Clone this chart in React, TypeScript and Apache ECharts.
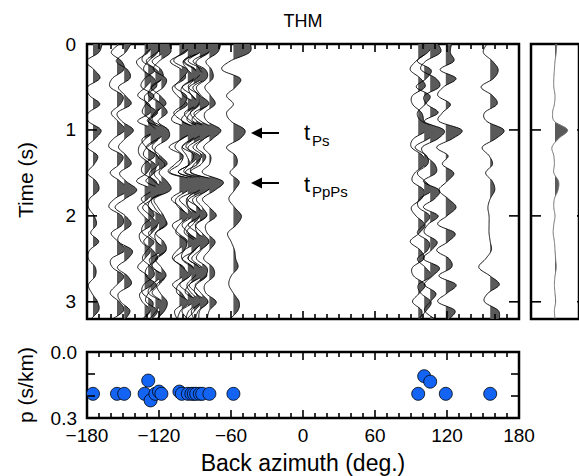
import React, { useEffect, useRef } from 'react';
import * as echarts from 'echarts';

// ---- data ----
const TIMES = [0, 0.1, 0.2, 0.3, 0.4, 0.5, 0.6, 0.7, 0.8, 0.9, 1.0, 1.1, 1.2, 1.3, 1.4, 1.5, 1.6, 1.7, 1.8, 1.9, 2.0, 2.1, 2.2, 2.3, 2.4, 2.5, 2.6, 2.7, 2.8, 2.9, 3.0, 3.1, 3.2];

const BACK_AZIMUTH = [-175, -155, -149, -132, -129, -127, -123, -120, -118, -103, -101, -96, -93, -91, -89, -86, -84, -78, -58, 96, 101, 106, 119, 156];
const SLOWNESS = [0.19, 0.19, 0.19, 0.19, 0.13, 0.22, 0.19, 0.18, 0.19, 0.18, 0.19, 0.19, 0.19, 0.19, 0.19, 0.19, 0.19, 0.19, 0.19, 0.19, 0.11, 0.135, 0.19, 0.19];

const RF_01 = [0.8, 0.5, -0.6, 0.1, 0.6, -0.5, -0.3, 0.6, -0.4, -0.4, 0.7, 0.2, -0.5, 0.4, 0.1, -0.5, 0.3, 0.5, -0.3, -0.4, 0.1, 0.3, -0.2, 0.5, -0.3, -0.4, 0.2, 0.2, -0.4, -0.1, 0.4, 0.5, -0.2];
const RF_02 = [0.2, -0.5, 0.4, 0.6, -0.4, -0.6, 0.5, 0.3, -0.5, 0.1, 0.7, -0.3, -0.7, 0.5, 0.2, -0.6, 0.3, 1.0, -0.2, -0.7, 0.4, 0.5, -0.5, 0.1, 0.7, -0.5, -0.4, 0.6, 0.0, -0.6, 0.2, 0.6, -0.4];
const RF_03 = [0.6, 0.1, -0.7, 0.3, 0.5, -0.5, 0.1, 0.6, -0.6, -0.2, 0.8, 0.1, -0.5, 0.2, 0.6, -0.4, 0.2, 1.1, 0.1, -0.8, 0.1, 0.6, -0.3, -0.5, 0.7, 0.3, -0.6, 0.3, 0.6, -0.5, -0.3, 0.5, 0.1];
const RF_04 = [0.8, 0.3, -0.7, -0.2, 0.6, 0.1, -0.6, 0.4, 0.5, -0.6, 0.9, 0.1, -0.5, -0.4, 0.5, 0.2, -0.7, 0.8, 0.3, -0.6, -0.1, 0.6, -0.4, -0.3, 0.5, 0.0, -0.6, 0.3, 0.6, -0.4, -0.2, 0.5, -0.1];
const RF_05 = [1.0, -0.2, -0.5, 0.6, -0.3, -0.6, 0.5, -0.2, -0.5, 0.4, 0.8, -0.5, -0.2, 0.6, -0.4, -0.5, 0.7, 0.4, -0.6, 0.1, 0.5, -0.4, -0.5, 0.5, -0.1, -0.5, 0.3, 0.5, -0.4, -0.5, 0.4, 0.2, -0.5];
const RF_06 = [0.5, 0.6, -0.2, -0.6, 0.3, 0.5, -0.5, -0.3, 0.6, -0.2, 0.5, 0.7, -0.3, -0.6, 0.4, 0.3, -0.4, 1.0, 0.2, -0.7, 0.0, 0.6, 0.1, -0.6, 0.2, 0.6, -0.3, -0.4, 0.5, -0.2, -0.4, 0.6, 0.1];
const RF_07 = [0.9, 0.1, -0.8, 0.1, 0.6, -0.3, -0.6, 0.5, 0.1, -0.7, 1.0, 0.2, -0.8, 0.2, 0.3, -0.5, -0.1, 0.9, -0.3, -0.6, 0.4, 0.2, -0.6, 0.1, 0.6, -0.5, -0.2, 0.5, -0.3, -0.6, 0.5, 0.1, -0.5];
const RF_08 = [1.1, 0.4, -0.6, 0.2, 0.3, -0.7, 0.1, 0.6, -0.4, -0.5, 0.8, 0.0, -0.6, 0.1, 0.7, -0.4, 0.1, 0.9, -0.6, -0.4, 0.2, 0.7, -0.3, -0.2, 0.6, -0.2, -0.6, 0.5, 0.0, -0.6, 0.3, 0.4, -0.2];
const RF_09 = [0.7, 0.8, -0.2, -0.7, 0.4, 0.2, -0.7, 0.0, 0.5, -0.3, 0.6, 0.6, -0.5, -0.4, 0.3, -0.2, 0.5, 0.8, -0.6, -0.3, 0.2, 0.4, -0.5, 0.2, 0.4, -0.5, 0.0, 0.4, -0.4, -0.1, 0.5, 0.3, -0.4];
const RF_10 = [1.2, 0.5, -0.8, 0.2, 0.5, -0.6, -0.2, 0.7, -0.3, -0.6, 1.2, 0.3, -0.9, 0.3, -0.4, -0.9, 1.5, 0.4, -0.7, 0.1, 0.5, -0.6, -0.1, 0.7, -0.2, -0.6, 0.4, 0.3, -0.6, 0.2, 0.5, -0.4, -0.2];
const RF_11 = [1.3, 0.1, -0.7, 0.5, 0.0, -0.6, 0.4, 0.2, -0.7, 0.1, 1.3, 0.0, -0.6, 0.1, -0.2, -1.0, 1.6, 0.6, -0.5, -0.3, 0.6, -0.2, -0.5, 0.4, 0.2, -0.7, 0.1, 0.6, -0.3, -0.4, 0.6, -0.1, -0.4];
const RF_12 = [1.4, 0.6, -0.4, 0.0, 0.6, -0.5, -0.4, 0.8, -0.1, -0.5, 1.1, 0.5, -0.5, -0.1, 0.1, -0.8, 1.4, 0.8, -0.7, -0.1, 0.4, -0.5, 0.1, 0.8, -0.3, -0.5, 0.5, 0.2, -0.7, 0.1, 0.5, -0.5, 0.0];
const RF_13 = [1.3, 0.7, -0.6, 0.4, 0.2, -0.8, 0.1, 0.5, -0.6, 0.0, 1.4, 0.1, -0.8, 0.5, -0.1, -1.1, 1.5, 0.5, -0.4, -0.2, 0.7, -0.3, -0.6, 0.4, 0.3, -0.8, 0.1, 0.7, -0.2, -0.5, 0.7, -0.2, -0.5];
const RF_14 = [1.1, 0.4, -0.9, 0.1, 0.7, -0.4, -0.2, 0.5, -0.3, -0.5, 1.2, 0.6, -0.5, 0.0, -0.4, -0.8, 1.3, 0.9, -0.4, -0.5, 0.5, -0.1, -0.6, 0.6, 0.1, -0.5, 0.5, 0.1, -0.6, -0.2, 0.6, 0.1, -0.6];
const RF_15 = [1.5, 0.3, -0.7, 0.6, 0.0, -0.7, 0.3, 0.2, -0.5, 0.1, 1.3, -0.1, -0.9, 0.3, 0.1, -0.9, 1.7, 0.3, -0.8, 0.2, 0.3, -0.7, 0.1, 0.6, -0.2, -0.7, 0.3, 0.5, -0.6, 0.0, 0.4, -0.4, -0.2];
const RF_16 = [1.2, 0.8, -0.3, 0.0, 0.5, -0.6, 0.0, 0.7, -0.2, -0.6, 1.4, 0.4, -0.6, 0.2, -0.5, -0.7, 1.4, 0.7, -0.6, -0.2, 0.6, -0.3, -0.2, 0.8, 0.0, -0.7, 0.2, 0.6, -0.3, -0.4, 0.7, -0.1, -0.4];
const RF_17 = [1.4, 0.5, -0.8, 0.3, 0.4, -0.5, -0.1, 0.6, -0.7, -0.1, 1.2, 0.2, -0.5, 0.3, -0.1, -1.0, 1.5, 0.5, -0.5, 0.0, 0.4, -0.6, 0.0, 0.6, -0.1, -0.5, 0.4, 0.3, -0.6, -0.1, 0.5, -0.2, -0.3];
const RF_18 = [1.0, 0.7, -0.3, 0.2, 0.3, -0.4, 0.1, 0.5, -0.4, -0.2, 1.0, 0.3, -0.5, 0.1, 0.0, -0.6, 1.2, 0.5, -0.6, 0.0, 0.6, -0.3, -0.2, 0.5, 0.0, -0.5, 0.3, 0.4, -0.4, -0.3, 0.6, 0.0, -0.2];
const RF_19 = [1.5, 1.4, -0.3, -1.0, 0.6, 0.2, -0.6, 0.0, -0.6, -0.2, 1.0, 0.6, -0.6, 0.2, 0.3, -0.3, 0.5, 0.1, -0.4, 0.1, 0.7, 0.3, -0.5, -0.2, 0.1, 0.2, 0.4, -0.2, -0.4, 0.0, 0.5, 0.4, -0.3];
const RF_20 = [0.5, 0.7, -0.2, -0.7, 0.2, 0.6, -0.5, -0.5, 0.3, 0.5, 0.8, -0.4, -0.6, 0.4, 0.6, -0.3, -0.5, 0.5, 0.3, -0.6, -0.2, 0.6, 0.1, -0.7, 0.2, 0.5, -0.5, -0.4, 0.6, 0.1, -0.5, 0.3, 0.2];
const RF_21 = [0.9, 0.3, -0.6, 0.6, 0.2, -0.7, 0.5, 0.1, -0.6, -0.2, 1.4, 0.4, -0.8, 0.2, 0.3, -0.6, 0.1, 0.7, -0.4, -0.5, 0.5, 0.0, -0.6, 0.4, 0.3, -0.6, 0.1, 0.6, -0.5, -0.3, 0.6, 0.2, -0.5];
const RF_22 = [0.7, 0.9, -0.4, -0.8, 0.5, 0.8, -0.5, -0.3, 0.7, -0.5, 1.2, 0.7, -0.7, -0.4, 0.4, 0.5, -0.6, 0.8, 0.4, -0.6, 0.7, -0.2, -0.5, 0.6, 0.1, -0.6, 0.8, 0.2, -0.5, 0.5, 0.0, -0.5, 0.4];
const RF_23 = [0.5, 0.4, 0.7, -0.5, 0.9, -0.2, -0.7, 0.4, -0.3, -0.6, 1.4, 0.6, -0.8, 0.2, -0.3, 0.7, 0.1, -0.6, 0.2, 0.9, 0.1, -0.7, 0.8, 0.2, -0.8, 0.3, 0.5, -0.6, 0.9, 0.1, -0.7, 0.8, 0.3];
const RF_24 = [-0.3, -0.6, 0.2, 0.7, 0.3, -0.8, 0.2, 0.6, -0.5, -0.3, 1.2, 0.5, -0.7, -0.1, 0.2, -0.4, 0.2, 0.4, 0.0, -0.2, -0.1, -0.1, -0.1, 0.0, 0.1, -0.4, -1.0, 0.0, 0.8, -0.2, -0.5, 0.7, 0.8];

const TRACES = [RF_01, RF_02, RF_03, RF_04, RF_05, RF_06, RF_07, RF_08, RF_09, RF_10, RF_11, RF_12, RF_13, RF_14, RF_15, RF_16, RF_17, RF_18, RF_19, RF_20, RF_21, RF_22, RF_23, RF_24];

const STACK = [0.15, 0.1, 0.0, -0.05, -0.1, -0.1, 0.0, -0.05, -0.2, -0.05, 1.05, 0.3, -0.25, -0.1, -0.05, -0.1, 0.3, 0.25, -0.05, -0.1, 0.0, -0.1, -0.15, -0.05, 0.0, 0.05, 0.1, 0.0, -0.05, 0.0, 0.05, -0.05, 0.0];

// tick positions
const BAZ_MAJOR_TICKS = [-180, -120, -60, 0, 60, 120, 180];
const BAZ_MINOR_TICKS = [-170, -160, -150, -140, -130, -110, -100, -90, -80, -70, -50, -40, -30, -20, -10, 10, 20, 30, 40, 50, 70, 80, 90, 100, 110, 130, 140, 150, 160, 170];
const TIME_TICKS = [1, 2, 3];
const P_TICKS = [0.1, 0.2];

const AMP_DEG = 9.5; // degrees of back azimuth per unit amplitude
const FONT = 'Liberation Sans, Arial, Helvetica, sans-serif';
const FILL = '#5a5a5a';

const GRIDS = [
  { left: 87, top: 44, width: 432, height: 275 },
  { left: 87, top: 352, width: 432, height: 66 },
  { left: 531, top: 44, width: 56, height: 275 },
];

function catmull(pts: number[][], n: number) {
  const out: number[][] = [];
  const L = pts.length;
  for (let i = 0; i < L - 1; i++) {
    const p0 = pts[Math.max(i - 1, 0)], p1 = pts[i], p2 = pts[i + 1], p3 = pts[Math.min(i + 2, L - 1)];
    for (let k = 0; k < n; k++) {
      const s = k / n, s2 = s * s, s3 = s2 * s;
      const f = (a: number, b: number, c: number, d: number) =>
        0.5 * (2 * b + (-a + c) * s + (2 * a - 5 * b + 4 * c - d) * s2 + (-a + 3 * b - 3 * c + d) * s3);
      out.push([f(p0[0], p1[0], p2[0], p3[0]), f(p0[1], p1[1], p2[1], p3[1])]);
    }
  }
  out.push(pts[L - 1]);
  return out;
}

function positiveFills(curve: number[][], base: number) {
  const polys: number[][][] = [];
  let cur: number[][] | null = null;
  for (let i = 0; i < curve.length; i++) {
    const [x, y] = curve[i];
    if (x > base) {
      if (!cur) {
        if (i > 0) {
          const [px, py] = curve[i - 1];
          const f = (base - px) / (x - px);
          cur = [[base, py + f * (y - py)]];
        } else cur = [[base, y]];
      }
      cur.push([x, y]);
    } else if (cur) {
      const [px, py] = curve[i - 1];
      const f = (base - px) / (x - px);
      cur.push([base, py + f * (y - py)]);
      polys.push(cur);
      cur = null;
    }
  }
  if (cur) {
    cur.push([base, cur[cur.length - 1][1]]);
    polys.push(cur);
  }
  return polys;
}

function makeRenderer(bases: number[], traces: number[][], scale: number, stroke: string, lw: number) {
  return (params: any, api: any) => {
    const i = params.dataIndex;
    const b = bases[i];
    const amp = traces[i];
    const cs = params.coordSys;
    const raw = TIMES.map((t, k) => api.coord([b + amp[k] * scale, t]));
    const base = api.coord([b, 0])[0];
    const curve = catmull(raw, 10).map(([x, y]) => [Math.min(Math.max(x, cs.x), cs.x + cs.width), y]);
    const children: any[] = positiveFills(curve, base).map((p) => ({
      type: 'polygon',
      shape: { points: p },
      style: { fill: FILL, stroke: 'none' },
    }));
    children.push({
      type: 'polyline',
      shape: { points: curve },
      style: { stroke, fill: 'none', lineWidth: lw },
    });
    return { type: 'group', children };
  };
}

const minus = (v: number) => (v < 0 ? '\u2212' + Math.abs(v) : String(v));

export default function App() {
  const ref = useRef<HTMLDivElement>(null);
  useEffect(() => {
    if (!ref.current) return;
    const chart = echarts.init(ref.current, undefined, { renderer: 'svg' });
    const noLine = { show: false, onZero: false };
    const bazAxis = (gridIndex: number, labels: boolean) => ({
      type: 'value', gridIndex, position: 'bottom', min: -180, max: 180, interval: 60,
      axisLine: noLine, axisTick: { show: false },
      splitLine: { show: false },
      axisLabel: { show: labels, formatter: minus, fontSize: 19, color: '#000', fontFamily: FONT, margin: 8 },
    });
    const timeAxis = (gridIndex: number, labels: boolean) => ({
      type: 'value', gridIndex, position: 'left', min: 0, max: 3.2, interval: 1, inverse: true,
      axisLine: noLine, axisTick: { show: false },
      splitLine: { show: false },
      axisLabel: {
        show: labels, fontSize: 19, color: '#000', fontFamily: FONT, margin: 11,
        formatter: (v: number) => (Math.abs(v - Math.round(v)) < 1e-6 ? String(Math.round(v)) : ''),
      },
    });
    const gridStyle = { show: true, borderColor: '#000', borderWidth: 2.5, backgroundColor: 'transparent' };
    const textStyle = (text: string, size: number, align = 'center') => ({
      text, fontSize: size, fontFamily: FONT, fill: '#000',
      align, textAlign: align, verticalAlign: 'middle', textVerticalAlign: 'middle',
    });
    const arrow = (y: number) => [
      { type: 'line', shape: { x1: 279, y1: y, x2: 258, y2: y }, style: { stroke: '#000', lineWidth: 2 } },
      { type: 'polygon', shape: { points: [[251, y], [262, y - 5.5], [262, y + 5.5]] }, style: { fill: '#000' } },
    ];
    chart.setOption({
      animation: false,
      textStyle: { fontFamily: FONT },
      grid: GRIDS.map((g) => ({ ...g, ...gridStyle })),
      xAxis: [
        bazAxis(0, false),
        bazAxis(1, true),
        { type: 'value', gridIndex: 2, min: -2, max: 2, axisLine: noLine, axisTick: { show: false }, axisLabel: { show: false }, splitLine: { show: false } },
      ],
      yAxis: [
        timeAxis(0, true),
        {
          type: 'value', gridIndex: 1, position: 'left', min: 0, max: 0.3, interval: 0.1, inverse: true,
          axisLine: noLine, axisTick: { show: false }, splitLine: { show: false },
          axisLabel: {
            fontSize: 19, color: '#000', fontFamily: FONT, margin: 10,
            formatter: (v: number) => (Math.abs(v) < 1e-6 ? '0.0' : Math.abs(v - 0.3) < 1e-6 ? '0.3' : ''),
          },
        },
        timeAxis(2, false),
      ],
      series: [
        {
          type: 'custom', xAxisIndex: 0, yAxisIndex: 0,
          data: BACK_AZIMUTH.map((b) => [b, 0]),
          renderItem: makeRenderer(BACK_AZIMUTH, TRACES, AMP_DEG, '#000', 0.9),
          silent: true,
        },
        {
          type: 'scatter', xAxisIndex: 1, yAxisIndex: 1,
          data: BACK_AZIMUTH.map((b, i) => [b, SLOWNESS[i]]),
          symbol: 'circle', symbolSize: 13, z: 6,
          itemStyle: { color: '#1464f4', borderColor: '#000', borderWidth: 0.8, opacity: 1 },
        },
        {
          type: 'custom', xAxisIndex: 2, yAxisIndex: 2,
          data: [[0, 0]],
          renderItem: makeRenderer([0], [STACK], 1, '#707070', 1),
          silent: true,
        },
      ],
    });

    // tick marks, positioned through the axes' own scales
    const ticks: any[] = [];
    const st = { stroke: '#000', lineWidth: 1.6 };
    const xTicks = (axisIdx: number, g: any) => {
      const top = g.top, bottom = g.top + g.height;
      const add = (v: number, len: number) => {
        const x = Number(chart.convertToPixel({ xAxisIndex: axisIdx } as any, v));
        if (!isFinite(x)) return;
        ticks.push({ type: 'line', z: 100, shape: { x1: x, y1: top, x2: x, y2: top + len }, style: st });
        ticks.push({ type: 'line', z: 100, shape: { x1: x, y1: bottom, x2: x, y2: bottom - len }, style: st });
      };
      BAZ_MAJOR_TICKS.forEach((v) => add(v, 8));
      BAZ_MINOR_TICKS.forEach((v) => add(v, 5));
    };
    const yTicks = (axisIdx: number, g: any, vals: number[], len: number) => {
      const left = g.left, right = g.left + g.width;
      vals.forEach((v) => {
        const y = Number(chart.convertToPixel({ yAxisIndex: axisIdx } as any, v));
        if (!isFinite(y)) return;
        ticks.push({ type: 'line', z: 100, shape: { x1: left, y1: y, x2: left + len, y2: y }, style: st });
        ticks.push({ type: 'line', z: 100, shape: { x1: right, y1: y, x2: right - len, y2: y }, style: st });
      });
    };
    xTicks(0, GRIDS[0]);
    xTicks(1, GRIDS[1]);
    yTicks(0, GRIDS[0], TIME_TICKS, 10);
    yTicks(1, GRIDS[1], P_TICKS, 8);
    yTicks(2, GRIDS[2], TIME_TICKS, 10);

    chart.setOption({
      graphic: [
        { type: 'text', x: 303, y: 21, style: textStyle('THM', 18) },
        { type: 'text', x: 25, y: 180, rotation: Math.PI / 2, style: textStyle('Time (s)', 21) },
        { type: 'text', x: 25, y: 385, rotation: Math.PI / 2, style: textStyle('p (s/km)', 21) },
        { type: 'text', x: 303, y: 463, style: textStyle('Back azimuth (deg.)', 23) },
        ...arrow(133),
        ...arrow(183),
        { type: 'text', x: 304, y: 132, style: textStyle('t', 22, 'left') },
        { type: 'text', x: 312, y: 140, style: textStyle('Ps', 15, 'left') },
        { type: 'text', x: 304, y: 184, style: textStyle('t', 22, 'left') },
        { type: 'text', x: 312, y: 191, style: textStyle('PpPs', 15, 'left') },
        ...ticks,
      ],
    });
    return () => chart.dispose();
  }, []);
  return <div ref={ref} style={{ position: 'absolute', left: 0, top: 0, width: 579, height: 476 }} />;
}
